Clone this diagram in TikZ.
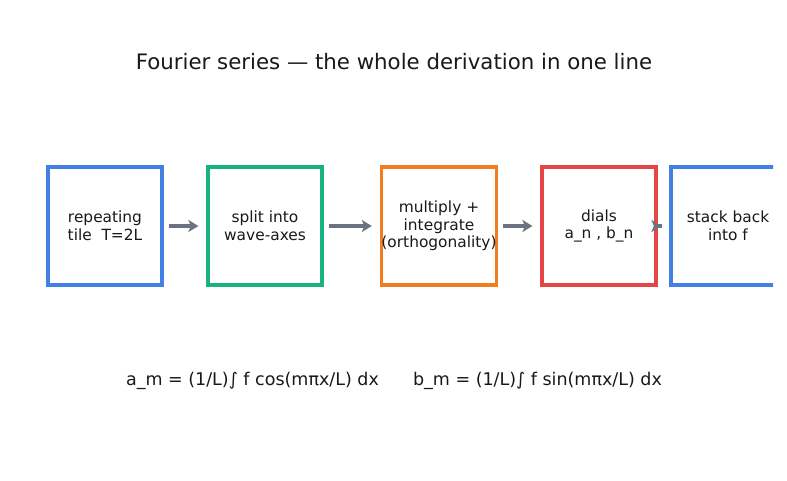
\documentclass[tikz,border=0pt]{standalone}
\usepackage{fontspec}
\setmainfont{DejaVu Sans}
\definecolor{tileblue}{RGB}{66,128,230}
\definecolor{axisgreen}{RGB}{24,178,128}
\definecolor{intorange}{RGB}{240,125,32}
\definecolor{dialred}{RGB}{228,70,72}
\definecolor{arrowgray}{RGB}{107,114,128}
\definecolor{inkgray}{RGB}{25,25,25}
\usetikzlibrary{arrows.meta,positioning}
\tikzset{
  stepbox/.style={rectangle,draw=#1,line width=3.2pt,fill=white,
                  minimum width=114pt,minimum height=118pt,
                  align=center,text=inkgray,inner sep=0pt,
                  font=\fontsize{15.4}{17.6}\selectfont},
  stepbox/.default=tileblue,
  flow/.style={-{Stealth[length=10pt,width=12pt,inset=2.5pt]},
               line width=3.2pt,arrowgray,shorten <=5pt,shorten >=8pt},
  formula/.style={text=inkgray,font=\fontsize{17.5}{20}\selectfont},
}

\begin{document}
\begin{tikzpicture}[x=1pt,y=-1pt]
  \useasboundingbox[fill=white] (0,0) rectangle (787,480);
  % title
  \node[text=inkgray,font=\fontsize{21.3}{24}\selectfont] (title) at (394,62)
      {Fourier series — the whole derivation in one line};
  % the five steps
  \begin{scope}
    \clip (0,0) rectangle (773,480);
    \node[stepbox=tileblue] (tile) at (105,226) {repeating\\tile\ \ T=2L};
    \node[stepbox=axisgreen] (split) at (265,226) {split into\\wave-axes};
    \node[stepbox=intorange] (proj) at (439,226)
        {multiply +\\integrate\\(orthogonality)};
    \node[stepbox=dialred] (dials) at (599,226) {dials\\a\_n , b\_n};
    \node[stepbox=tileblue] (stack) at (728,226) {stack back\\into f};
  \end{scope}
  \draw[flow] (tile) -- (split);
  \draw[flow] (split) -- (proj);
  \draw[flow] (proj) -- (dials);
  \draw[flow,shorten <=-4pt] (dials) -- (stack);
  % coefficient formulas
  \node[formula] (am) at (252.5,381) {a\_m = (1/L)∫ f cos(mπx/L) dx};
  \node[formula] (bm) at (537.5,381) {b\_m = (1/L)∫ f sin(mπx/L) dx};
\end{tikzpicture}
\end{document}
